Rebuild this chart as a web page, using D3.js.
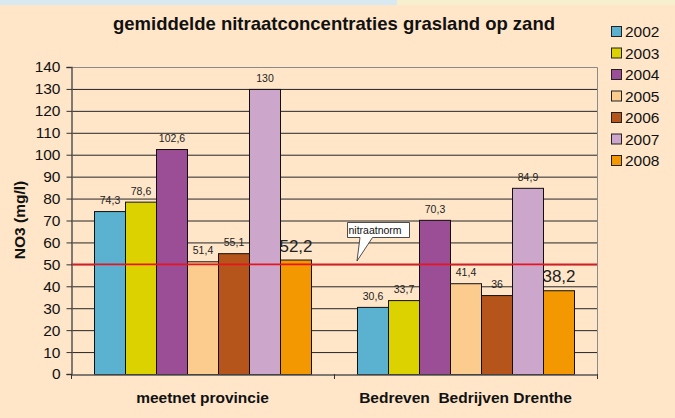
<!DOCTYPE html>
<html><head><meta charset="utf-8">
<script src="https://cdn.jsdelivr.net/npm/d3@7"></script>
<style>body{margin:0;background:#ffe6c9;}svg{display:block;}</style>
</head><body>
<svg id="c" width="675" height="418"></svg>
<script>
const categories = ["meetnet provincie", "Bedreven  Bedrijven Drenthe"];
const years = ["2002","2003","2004","2005","2006","2007","2008"];
const values = [
  [74.3, 78.6, 102.6, 51.4, 55.1, 130, 52.2],
  [30.6, 33.7, 70.3, 41.4, 36, 84.9, 38.2]
];
const labels = [
  ["74,3","78,6","102,6","51,4","55,1","130","52,2"],
  ["30,6","33,7","70,3","41,4","36","84,9","38,2"]
];
const colors = ["#5bb2d0","#dcd200","#9b4d95","#fccc8f","#b5541b","#cda6cc","#f39800"];
const yTicks = d3.range(0, 141, 10);
const norm = 50;
const FONT = "Liberation Sans, Arial, sans-serif";

const svg = d3.select("#c");
svg.append("rect").attr("x",0).attr("y",0).attr("width",675).attr("height",418).attr("fill","#ffe6c9");
svg.append("rect").attr("x",0).attr("y",0).attr("width",397).attr("height",5).attr("fill","#d8e9f2");
svg.append("rect").attr("x",397).attr("y",0).attr("width",278).attr("height",5).attr("fill","#f6f0cf");

const L=71, R=597, T=67, B=374;
const x0 = d3.scaleBand().domain(categories).range([L,R]).paddingInner(0).paddingOuter(0);
const x1 = d3.scaleBand().domain(years).range([0, 217]);
const y = d3.scaleLinear().domain([0,140]).range([B,T]);

// gridlines
svg.append("g").selectAll("line").data(yTicks.filter(d=>d>0 && d<140)).join("line")
  .attr("x1",L).attr("x2",R).attr("y1",d=>y(d)+0.5).attr("y2",d=>y(d)+0.5)
  .attr("stroke","#262626").attr("stroke-width",1);
// border top/right
svg.append("path").attr("d",`M${L},${T+0.5}H${R+0.5}V${B}`).attr("fill","none").attr("stroke","#8a8a8a");

// bars
const groups = svg.append("g").selectAll("g").data(categories).join("g")
  .attr("transform",(d,i)=>`translate(${x0(d)+(x0.bandwidth()-217)/2},0)`);
groups.selectAll("rect").data((d,i)=>values[i].map((v,j)=>({v,j}))).join("rect")
  .attr("x",d=>x1(years[d.j])+0.5).attr("width",x1.bandwidth())
  .attr("y",d=>y(d.v)+0.5).attr("height",d=>B-y(d.v))
  .attr("fill",d=>colors[d.j]).attr("stroke","#111").attr("stroke-width",1);
groups.selectAll("text").data((d,i)=>labels[i].map((t,j)=>({t,j,v:values[i][j]}))).join("text")
  .attr("x",d=>x1(years[d.j])+x1.bandwidth()/2+0.5)
  .attr("y",d=>d.j===6 ? y(d.v)-8 : y(d.v)-7)
  .attr("text-anchor","middle")
  .attr("font-family",FONT)
  .attr("font-size",d=>d.j===6?17:10.5)
  .attr("fill","#222")
  .text(d=>d.t);

// norm line
svg.append("line").attr("x1",L).attr("x2",R).attr("y1",y(norm)).attr("y2",y(norm))
  .attr("stroke","#e8141e").attr("stroke-width",1.6);

// y axis
const yAxis = d3.axisLeft(y).tickValues(yTicks).tickSize(5).tickPadding(6);
const ya = svg.append("g").attr("transform",`translate(${L+0.5},0)`).call(yAxis);
ya.select(".domain").attr("stroke","#555").attr("stroke-width",1.5);
ya.selectAll(".tick line").attr("stroke","#333");
ya.selectAll("text").attr("font-family",FONT).attr("font-size",15.5).attr("fill","#111");

// x axis
const xa = svg.append("g").attr("transform",`translate(0,${B+0.5})`)
  .call(d3.axisBottom(x0).tickSize(0).tickPadding(17));
xa.select(".domain").attr("stroke","#555").attr("stroke-width",1.5);
xa.selectAll("text").attr("font-family",FONT).attr("font-size",15.5)
  .attr("font-weight","bold").attr("fill","#111").style("white-space","pre").attr("xml:space","preserve");
[L, (L+R)/2, R].forEach(v=>{
  svg.append("line").attr("x1",v+0.5).attr("x2",v+0.5).attr("y1",B).attr("y2",B+5).attr("stroke","#333");
});

// title
svg.append("text").attr("x",334).attr("y",30).attr("text-anchor","middle")
  .attr("font-family",FONT).attr("font-size",18.5).attr("font-weight","bold")
  .attr("fill","#111").text("gemiddelde nitraatconcentraties grasland op zand");

// y label
svg.append("text").attr("transform","translate(25,220) rotate(-90)").attr("text-anchor","middle")
  .attr("font-family",FONT).attr("font-size",15.5).attr("font-weight","bold")
  .attr("fill","#111").text("NO3 (mg/l)");

// legend
const lg = svg.append("g").selectAll("g").data(years).join("g")
  .attr("transform",(d,i)=>`translate(611,${26+i*21.5})`);
lg.append("rect").attr("x",0.5).attr("y",0.5).attr("width",10).attr("height",10)
  .attr("fill",(d,i)=>colors[i]).attr("stroke","#222");
lg.append("text").attr("x",14).attr("y",11)
  .attr("font-family",FONT).attr("font-size",15.5).attr("fill","#111").text(d=>d);

// callout
svg.append("path").attr("d","M347.5,222.5H409.5V237.5H372.5L357,261L360,237.5H347.5Z")
  .attr("fill","#fff").attr("stroke","#222").attr("stroke-width",0.8);
svg.append("text").attr("x",348.5).attr("y",233.5)
  .attr("font-family",FONT).attr("font-size",10.5).attr("fill","#111").text("nitraatnorm");
</script>
</body></html>
